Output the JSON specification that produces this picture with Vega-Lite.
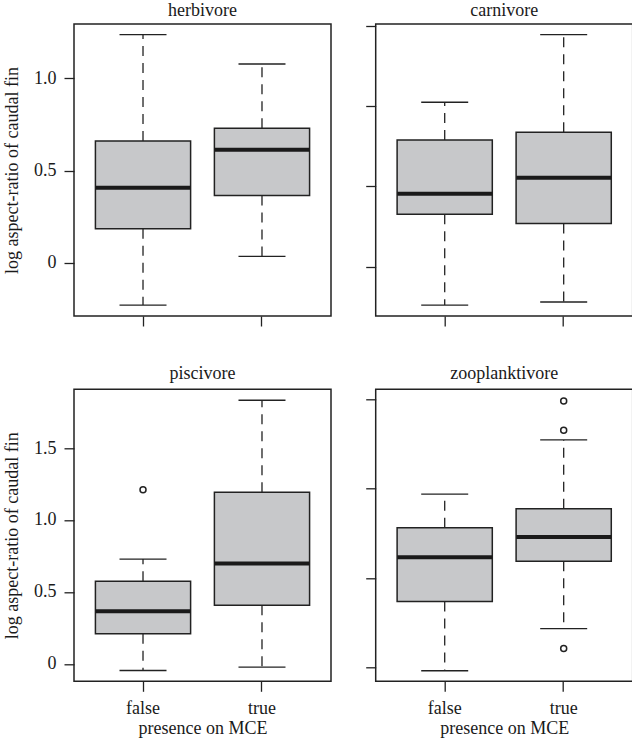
{
  "$schema": "https://vega.github.io/schema/vega-lite/v6.json",
  "background": "white",
  "padding": {"left": 2, "top": 1, "right": 1, "bottom": 5},
  "config": {
    "font": "Liberation Serif",
    "view": {"stroke": "#222222", "strokeWidth": 1.5},
    "axis": {
      "grid": false, "domain": false, "tickColor": "#222222", "tickWidth": 1.3, "tickSize": 10,
      "labelFontSize": 18, "titleFontSize": 18, "titleFontWeight": "normal", "labelColor": "#1a1a1a", "titleColor": "#1a1a1a",
      "labelPadding": 8
    },
    "title": {"fontSize": 18, "fontWeight": "normal", "color": "#1a1a1a", "anchor": "middle", "offset": 4}
  },
  "datasets": {
    "boxes": [
      {"diet": "herbivore", "presence": "false", "lower": -0.230, "q1": 0.184, "median": 0.407, "q3": 0.660, "upper": 1.237},
      {"diet": "herbivore", "presence": "true", "lower": 0.034, "q1": 0.365, "median": 0.613, "q3": 0.729, "upper": 1.078},
      {"diet": "carnivore", "presence": "false", "lower": -0.239, "q1": 0.326, "median": 0.454, "q3": 0.788, "upper": 1.023},
      {"diet": "carnivore", "presence": "true", "lower": -0.220, "q1": 0.268, "median": 0.554, "q3": 0.836, "upper": 1.444},
      {"diet": "piscivore", "presence": "false", "lower": -0.046, "q1": 0.209, "median": 0.366, "q3": 0.575, "upper": 0.728},
      {"diet": "piscivore", "presence": "true", "lower": -0.023, "q1": 0.408, "median": 0.698, "q3": 1.192, "upper": 1.832},
      {"diet": "zooplanktivore", "presence": "false", "lower": -0.019, "q1": 0.368, "median": 0.616, "q3": 0.780, "upper": 0.968},
      {"diet": "zooplanktivore", "presence": "true", "lower": 0.216, "q1": 0.593, "median": 0.729, "q3": 0.886, "upper": 1.271}
    ],
    "outliers": [
      {"diet": "piscivore", "presence": "false", "value": 1.210},
      {"diet": "zooplanktivore", "presence": "true", "value": 1.489},
      {"diet": "zooplanktivore", "presence": "true", "value": 1.325},
      {"diet": "zooplanktivore", "presence": "true", "value": 0.106}
    ]
  },
  "columns": 2,
  "bounds": "flush",
  "spacing": {"row": 73.3, "column": 44.7},
  "concat": [
    {
      "width": 257, "height": 292,
      "title": {"text": "herbivore"},
      "data": {"name": "boxes"},
      "transform": [{"filter": "datum.diet == 'herbivore'"}],
      "encoding": {
        "x": {"field": "presence", "type": "nominal", "sort": ["false", "true"],
              "scale": {"domain": ["false", "true"], "paddingInner": 0.2, "paddingOuter": 0.18},
              "axis": {"labels": false, "title": null, "labelAngle": 0}}
      },
      "layer": [
        {"mark": {"type": "rule", "strokeDash": [10, 7], "strokeWidth": 1.3, "color": "#222222"},
         "encoding": {"y": {"field": "q3", "type": "quantitative", "scale": {"domain": [-0.289, 1.295], "nice": false, "zero": false},
                            "axis": {"values": [0, 0.5, 1], "labelExpr": "datum.value == 0 ? '0' : format(datum.value, '.1f')", "title": "log aspect-ratio of caudal fin", "titlePadding": 12}},
                      "y2": {"field": "upper"}}},
        {"mark": {"type": "rule", "strokeDash": [10, 7], "strokeWidth": 1.3, "color": "#222222"},
         "encoding": {"y": {"field": "q1", "type": "quantitative"}, "y2": {"field": "lower"}}},
        {"mark": {"type": "tick", "size": 47, "thickness": 1.3, "color": "#222222", "opacity": 1},
         "encoding": {"y": {"field": "upper", "type": "quantitative"}}},
        {"mark": {"type": "tick", "size": 47, "thickness": 1.3, "color": "#222222", "opacity": 1},
         "encoding": {"y": {"field": "lower", "type": "quantitative"}}},
        {"mark": {"type": "bar", "fill": "#c7c8ca", "stroke": "#222222", "strokeWidth": 1.5},
         "encoding": {"y": {"field": "q1", "type": "quantitative"}, "y2": {"field": "q3"}}},
        {"mark": {"type": "tick", "size": 95, "thickness": 4, "color": "#1a1a1a", "opacity": 1},
         "encoding": {"y": {"field": "median", "type": "quantitative"}}}
      ]
    },
    {
      "width": 257, "height": 292,
      "title": {"text": "carnivore"},
      "data": {"name": "boxes"},
      "transform": [{"filter": "datum.diet == 'carnivore'"}],
      "encoding": {
        "x": {"field": "presence", "type": "nominal", "sort": ["false", "true"],
              "scale": {"domain": ["false", "true"], "paddingInner": 0.2, "paddingOuter": 0.18},
              "axis": {"labels": false, "title": null, "labelAngle": 0}}
      },
      "layer": [
        {"mark": {"type": "rule", "strokeDash": [10, 7], "strokeWidth": 1.3, "color": "#222222"},
         "encoding": {"y": {"field": "q3", "type": "quantitative", "scale": {"domain": [-0.307, 1.510], "nice": false, "zero": false},
                            "axis": {"values": [0, 0.5, 1, 1.5], "labels": false, "title": null}},
                      "y2": {"field": "upper"}}},
        {"mark": {"type": "rule", "strokeDash": [10, 7], "strokeWidth": 1.3, "color": "#222222"},
         "encoding": {"y": {"field": "q1", "type": "quantitative"}, "y2": {"field": "lower"}}},
        {"mark": {"type": "tick", "size": 47, "thickness": 1.3, "color": "#222222", "opacity": 1},
         "encoding": {"y": {"field": "upper", "type": "quantitative"}}},
        {"mark": {"type": "tick", "size": 47, "thickness": 1.3, "color": "#222222", "opacity": 1},
         "encoding": {"y": {"field": "lower", "type": "quantitative"}}},
        {"mark": {"type": "bar", "fill": "#c7c8ca", "stroke": "#222222", "strokeWidth": 1.5},
         "encoding": {"y": {"field": "q1", "type": "quantitative"}, "y2": {"field": "q3"}}},
        {"mark": {"type": "tick", "size": 95, "thickness": 4, "color": "#1a1a1a", "opacity": 1},
         "encoding": {"y": {"field": "median", "type": "quantitative"}}}
      ]
    },
    {
      "width": 257, "height": 292,
      "title": {"text": "piscivore", "offset": 6},
      "encoding": {
        "x": {"field": "presence", "type": "nominal", "sort": ["false", "true"],
              "scale": {"domain": ["false", "true"], "paddingInner": 0.2, "paddingOuter": 0.18},
              "axis": {"title": "presence on MCE", "labelAngle": 0, "labelPadding": 8, "titlePadding": 2}}
      },
      "layer": [
        {"data": {"name": "boxes"}, "transform": [{"filter": "datum.diet == 'piscivore'"}],
         "mark": {"type": "rule", "strokeDash": [10, 7], "strokeWidth": 1.3, "color": "#222222"},
         "encoding": {"y": {"field": "q3", "type": "quantitative", "scale": {"domain": [-0.121, 1.908], "nice": false, "zero": false},
                            "axis": {"values": [0, 0.5, 1, 1.5], "labelExpr": "datum.value == 0 ? '0' : format(datum.value, '.1f')", "title": "log aspect-ratio of caudal fin", "titlePadding": 12}},
                      "y2": {"field": "upper"}}},
        {"data": {"name": "boxes"}, "transform": [{"filter": "datum.diet == 'piscivore'"}],
         "mark": {"type": "rule", "strokeDash": [10, 7], "strokeWidth": 1.3, "color": "#222222"},
         "encoding": {"y": {"field": "q1", "type": "quantitative"}, "y2": {"field": "lower"}}},
        {"data": {"name": "boxes"}, "transform": [{"filter": "datum.diet == 'piscivore'"}],
         "mark": {"type": "tick", "size": 47, "thickness": 1.3, "color": "#222222", "opacity": 1},
         "encoding": {"y": {"field": "upper", "type": "quantitative"}}},
        {"data": {"name": "boxes"}, "transform": [{"filter": "datum.diet == 'piscivore'"}],
         "mark": {"type": "tick", "size": 47, "thickness": 1.3, "color": "#222222", "opacity": 1},
         "encoding": {"y": {"field": "lower", "type": "quantitative"}}},
        {"data": {"name": "boxes"}, "transform": [{"filter": "datum.diet == 'piscivore'"}],
         "mark": {"type": "bar", "fill": "#c7c8ca", "stroke": "#222222", "strokeWidth": 1.5},
         "encoding": {"y": {"field": "q1", "type": "quantitative"}, "y2": {"field": "q3"}}},
        {"data": {"name": "boxes"}, "transform": [{"filter": "datum.diet == 'piscivore'"}],
         "mark": {"type": "tick", "size": 95, "thickness": 4, "color": "#1a1a1a", "opacity": 1},
         "encoding": {"y": {"field": "median", "type": "quantitative"}}},
        {"data": {"name": "outliers"}, "transform": [{"filter": "datum.diet == 'piscivore'"}],
         "mark": {"type": "point", "shape": "circle", "size": 36, "filled": false, "stroke": "#222222", "strokeWidth": 1.5, "opacity": 1},
         "encoding": {"y": {"field": "value", "type": "quantitative"}}}
      ]
    },
    {
      "width": 257, "height": 292,
      "title": {"text": "zooplanktivore", "offset": 6},
      "encoding": {
        "x": {"field": "presence", "type": "nominal", "sort": ["false", "true"],
              "scale": {"domain": ["false", "true"], "paddingInner": 0.2, "paddingOuter": 0.18},
              "axis": {"title": "presence on MCE", "labelAngle": 0, "labelPadding": 8, "titlePadding": 2}}
      },
      "layer": [
        {"data": {"name": "boxes"}, "transform": [{"filter": "datum.diet == 'zooplanktivore'"}],
         "mark": {"type": "rule", "strokeDash": [10, 7], "strokeWidth": 1.3, "color": "#222222"},
         "encoding": {"y": {"field": "q3", "type": "quantitative", "scale": {"domain": [-0.078, 1.554], "nice": false, "zero": false},
                            "axis": {"values": [0, 0.5, 1, 1.5], "labels": false, "title": null}},
                      "y2": {"field": "upper"}}},
        {"data": {"name": "boxes"}, "transform": [{"filter": "datum.diet == 'zooplanktivore'"}],
         "mark": {"type": "rule", "strokeDash": [10, 7], "strokeWidth": 1.3, "color": "#222222"},
         "encoding": {"y": {"field": "q1", "type": "quantitative"}, "y2": {"field": "lower"}}},
        {"data": {"name": "boxes"}, "transform": [{"filter": "datum.diet == 'zooplanktivore'"}],
         "mark": {"type": "tick", "size": 47, "thickness": 1.3, "color": "#222222", "opacity": 1},
         "encoding": {"y": {"field": "upper", "type": "quantitative"}}},
        {"data": {"name": "boxes"}, "transform": [{"filter": "datum.diet == 'zooplanktivore'"}],
         "mark": {"type": "tick", "size": 47, "thickness": 1.3, "color": "#222222", "opacity": 1},
         "encoding": {"y": {"field": "lower", "type": "quantitative"}}},
        {"data": {"name": "boxes"}, "transform": [{"filter": "datum.diet == 'zooplanktivore'"}],
         "mark": {"type": "bar", "fill": "#c7c8ca", "stroke": "#222222", "strokeWidth": 1.5},
         "encoding": {"y": {"field": "q1", "type": "quantitative"}, "y2": {"field": "q3"}}},
        {"data": {"name": "boxes"}, "transform": [{"filter": "datum.diet == 'zooplanktivore'"}],
         "mark": {"type": "tick", "size": 95, "thickness": 4, "color": "#1a1a1a", "opacity": 1},
         "encoding": {"y": {"field": "median", "type": "quantitative"}}},
        {"data": {"name": "outliers"}, "transform": [{"filter": "datum.diet == 'zooplanktivore'"}],
         "mark": {"type": "point", "shape": "circle", "size": 36, "filled": false, "stroke": "#222222", "strokeWidth": 1.5, "opacity": 1},
         "encoding": {"y": {"field": "value", "type": "quantitative"}}}
      ]
    }
  ]
}
